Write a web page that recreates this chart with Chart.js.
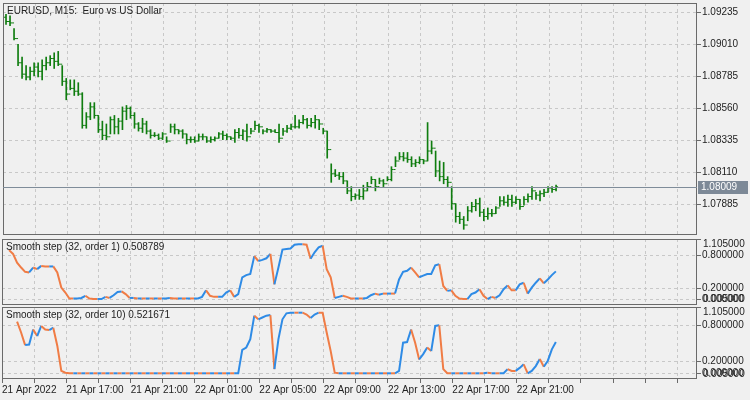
<!DOCTYPE html>
<html>
<head>
<meta charset="utf-8">
<script src="https://cdn.jsdelivr.net/npm/chart.js@4"></script>
<style>
  body { margin: 0; background: #f0f0f0; }
  #wrap { position: relative; width: 750px; height: 400px; }
  canvas { position: absolute; left: 0; }
</style>
</head>
<body>
<div id="wrap">
  <canvas id="c1" width="750" height="238" style="top:0;width:750px;height:238px"></canvas>
  <canvas id="c2" width="750" height="68" style="top:238px;width:750px;height:68px"></canvas>
  <canvas id="c3" width="750" height="94" style="top:306px;width:750px;height:94px"></canvas>
</div>
<script>
// EURUSD M15, 21-22 Apr 2022
const highs = [
  1.0922,1.0921,1.0912,1.0901,1.0892,1.0886,1.0885,1.0888,1.0888,1.0890,
  1.0892,1.0893,1.0895,1.0896,1.0886,1.0877,1.0876,1.0876,1.0874,1.0867,
  1.0853,1.0860,1.0860,1.0851,1.0847,1.0845,1.0850,1.0851,1.0849,1.0857,
  1.0858,1.0857,1.0853,1.0846,1.0849,1.0847,1.0841,1.0839,1.0838,1.0839,
  1.0836,1.0845,1.0845,1.0841,1.0841,1.0838,1.0836,1.0836,1.0838,1.0838,
  1.0836,1.0836,1.0836,1.0839,1.0840,1.0838,1.0836,1.0841,1.0842,1.0841,
  1.0845,1.0842,1.0847,1.0845,1.0841,1.0842,1.0841,1.0841,1.0845,1.0842,
  1.0844,1.0845,1.0851,1.0848,1.0851,1.0849,1.0849,1.0851,1.0848,1.0842,
  1.0840,1.0817,1.0813,1.0811,1.0811,1.0805,1.0801,1.0796,1.0799,1.0802,
  1.0804,1.0808,1.0806,1.0807,1.0806,1.0808,1.0815,1.0822,1.0825,1.0825,
  1.0825,1.0822,1.0820,1.0822,1.0820,1.0846,1.0833,1.0826,1.0819,1.0818,
  1.0808,1.0801,1.0789,1.0783,1.0780,1.0787,1.0790,1.0792,1.0793,1.0785,
  1.0786,1.0785,1.0787,1.0794,1.0794,1.0795,1.0795,1.0794,1.0792,1.0794,
  1.0796,1.0801,1.0797,1.0798,1.0799,1.0801,1.0801,1.0802
];
const lows = [
  1.0915,1.0914,1.0904,1.0886,1.0877,1.0876,1.0876,1.0879,1.0878,1.0876,
  1.0883,1.0886,1.0884,1.0886,1.0872,1.0862,1.0869,1.0865,1.0865,1.0842,
  1.0842,1.0848,1.0849,1.0839,1.0834,1.0834,1.0838,1.0838,1.0838,1.0841,
  1.0848,1.0849,1.0842,1.0840,1.0839,1.0838,1.0835,1.0836,1.0834,1.0834,
  1.0832,1.0839,1.0838,1.0838,1.0835,1.0831,1.0832,1.0832,1.0833,1.0834,
  1.0832,1.0832,1.0833,1.0835,1.0834,1.0834,1.0834,1.0832,1.0835,1.0834,
  1.0833,1.0838,1.0841,1.0839,1.0838,1.0839,1.0839,1.0839,1.0832,1.0837,
  1.0839,1.0841,1.0842,1.0842,1.0845,1.0842,1.0843,1.0842,1.0841,1.0838,
  1.0821,1.0804,1.0808,1.0806,1.0803,1.0796,1.0791,1.0792,1.0792,1.0792,
  1.0798,1.0803,1.0798,1.0803,1.0801,1.0805,1.0805,1.0815,1.0820,1.0819,
  1.0818,1.0815,1.0815,1.0817,1.0817,1.0819,1.0824,1.0808,1.0805,1.0803,
  1.0801,1.0785,1.0776,1.0775,1.0771,1.0777,1.0783,1.0784,1.0780,1.0777,
  1.0778,1.0780,1.0782,1.0787,1.0788,1.0787,1.0787,1.0789,1.0785,1.0788,
  1.0790,1.0792,1.0792,1.0791,1.0794,1.0797,1.0797,1.0798
];
const closes = [
  1.0917,1.0916,1.0905,1.0888,1.0880,1.0878,1.0882,1.0885,1.0882,1.0886,
  1.0888,1.0891,1.0889,1.0887,1.0875,1.0866,1.0870,1.0868,1.0866,1.0844,
  1.0850,1.0857,1.0851,1.0841,1.0837,1.0836,1.0848,1.0843,1.0847,1.0854,
  1.0856,1.0851,1.0845,1.0842,1.0845,1.0840,1.0837,1.0837,1.0835,1.0838,
  1.0833,1.0843,1.0841,1.0840,1.0838,1.0834,1.0834,1.0833,1.0836,1.0836,
  1.0833,1.0834,1.0835,1.0838,1.0837,1.0836,1.0835,1.0839,1.0837,1.0840,
  1.0836,1.0840,1.0844,1.0843,1.0840,1.0841,1.0840,1.0839,1.0835,1.0840,
  1.0842,1.0843,1.0843,1.0846,1.0848,1.0844,1.0846,1.0848,1.0845,1.0840,
  1.0827,1.0810,1.0809,1.0808,1.0805,1.0798,1.0794,1.0795,1.0794,1.0798,
  1.0801,1.0806,1.0801,1.0805,1.0803,1.0806,1.0813,1.0819,1.0822,1.0821,
  1.0820,1.0817,1.0818,1.0820,1.0819,1.0826,1.0828,1.0812,1.0808,1.0806,
  1.0804,1.0789,1.0780,1.0778,1.0774,1.0784,1.0787,1.0789,1.0783,1.0780,
  1.0782,1.0782,1.0786,1.0791,1.0790,1.0792,1.0790,1.0792,1.0787,1.0792,
  1.0794,1.0798,1.0795,1.0796,1.0797,1.0800,1.0799,1.08009
];
const firstOpen = 1.0920;
const lastPrice = 1.08009;

// Smooth step (32, order 1)
const step1 = [
  null,0.90,0.83,0.67,0.58,0.50,0.49,0.58,0.55,0.61,
  0.60,0.60,0.60,0.49,0.21,0.12,0.01,0.01,0.01,0.02,
  0.06,0.01,0.00,0.00,0.00,0.04,0.02,0.07,0.13,0.14,
  0.09,0.02,0.02,0.01,0.01,0.01,0.01,0.01,0.01,0.01,
  0.01,0.02,0.01,0.01,0.01,0.01,0.01,0.01,0.01,0.04,
  0.16,0.06,0.04,0.04,0.04,0.12,0.16,0.04,0.09,0.40,
  0.44,0.46,0.79,0.70,0.72,0.75,0.83,0.27,0.58,0.91,
  0.92,0.93,1.00,1.01,1.01,1.00,0.74,0.86,0.95,0.98,
  0.55,0.40,0.02,0.04,0.06,0.04,0.01,0.01,0.01,0.01,
  0.02,0.07,0.10,0.08,0.10,0.10,0.10,0.10,0.36,0.50,
  0.52,0.58,0.49,0.40,0.43,0.46,0.46,0.62,0.64,0.24,
  0.15,0.16,0.06,0.01,0.00,0.00,0.09,0.12,0.18,0.06,
  0.00,0.04,0.02,0.07,0.18,0.25,0.16,0.16,0.27,0.30,
  0.10,0.21,0.30,0.38,0.29,0.36,0.44,0.508789
];
// Smooth step (32, order 10)
const step10 = [
  null,null,null,0.86,0.68,0.47,0.48,0.73,0.62,0.79,
  0.73,0.72,0.76,0.46,0.04,0.01,0,0,0,0,
  0,0,0,0,0,0,0,0,0,0,
  0,0,0,0,0,0,0,0,0,0,
  0,0,0,0,0,0,0,0,0,0,
  0,0,0,0,0,0,0,0,0,0.39,
  0.43,0.57,0.96,0.90,0.93,0.96,0.97,0.07,0.57,0.90,
  1.00,1.01,1.01,1.01,1.01,0.98,0.92,0.98,1.01,1.01,
  0.68,0.37,0.01,0,0,0,0,0,0,0,
  0,0,0,0,0,0,0,0,0.04,0.51,
  0.52,0.73,0.51,0.23,0.32,0.43,0.37,0.79,0.80,0.07,
  0,0,0,0,0,0,0,0,0,0,
  0.01,0,0,0,0,0.07,0.04,0.04,0.09,0.15,
  0.00,0.04,0.12,0.24,0.11,0.21,0.40,0.521671
];

const priceTicks = [1.07885, 1.08110, 1.08335, 1.08560, 1.08785, 1.09010, 1.09235];
const stepTicks = [1.105, 0.8, 0.2, 0.0];
const timeLabels = ['21 Apr 2022', '21 Apr 17:00', '21 Apr 21:00', '22 Apr 01:00', '22 Apr 05:00',
                    '22 Apr 09:00', '22 Apr 13:00', '22 Apr 17:00', '22 Apr 21:00'];

const FONT = { family: 'Liberation Sans', size: 10 };
const TXT = '#222';
const GRID = '#c8c8c8';
const BORDER = '#6a6a6a';
const BLUE = '#2e8be6';
const ORANGE = '#f07c45';
const GREEN = '#0f7d0f';
const X_MIN = -0.75, X_MAX = 172.1;

Chart.defaults.font = FONT;
Chart.defaults.color = TXT;
Chart.defaults.animation = false;

function xAxis(showLabels) {
  return {
    type: 'linear', min: X_MIN, max: X_MAX, offset: false,
    afterBuildTicks: s => {
      const t = [];
      for (let v = X_MIN; v <= X_MAX; v += 8) t.push({ value: v });
      s.ticks = t;
    },
    afterFit: s => { s.height = showLabels ? 21 : 0; s.paddingLeft = 0; s.paddingRight = 0; },
    border: { display: false, dash: [3, 3] },
    grid: { color: GRID, drawTicks: showLabels, tickLength: 4,
            tickColor: BORDER, tickBorderDash: [], offset: false },
    ticks: {
      display: showLabels, autoSkip: false, maxRotation: 0, align: 'start', padding: 1,
      color: TXT,
      callback: (v, i) => (i % 2 === 0 ? (timeLabels[i / 2] || '') : '')
    }
  };
}

function yAxis(min, max, ticks, fmt, gridFilter) {
  return {
    position: 'right', min, max,
    afterBuildTicks: s => { s.ticks = ticks.map(v => ({ value: v })); },
    afterFit: s => { s.width = 53; s.paddingTop = 0; s.paddingBottom = 0; },
    border: { display: false, dash: [3, 3] },
    grid: {
      color: c => (gridFilter(c.tick && c.tick.value) ? GRID : 'rgba(0,0,0,0)'),
      tickLength: 4, tickColor: BORDER, tickBorderDash: []
    },
    ticks: { autoSkip: false, padding: 1, color: TXT, callback: fmt }
  };
}

function frame(label, extra) {
  return {
    id: 'frame',
    afterDraw(chart) {
      const { ctx, chartArea: a } = chart;
      ctx.save();
      ctx.strokeStyle = BORDER; ctx.lineWidth = 1;
      ctx.strokeRect(Math.round(a.left) + 0.5, Math.round(a.top) + 0.5,
                     Math.round(a.right - a.left) - 1, Math.round(a.bottom - a.top) - 1);
      ctx.font = '10px "Liberation Sans"';
      ctx.fillStyle = TXT; ctx.textBaseline = 'middle'; ctx.textAlign = 'left';
      ctx.fillText(label, a.left + 4, a.top + 8);
      if (extra) extra(chart);
      ctx.restore();
    }
  };
}

// main pane: bars
const barIdx = closes.map((_, i) => i);
const opens = closes.map((c, i) => (i === 0 ? firstOpen : closes[i - 1]));

new Chart(document.getElementById('c1'), {
  data: {
    datasets: [
      { type: 'bar', data: barIdx.map(i => ({ x: i, y: [lows[i], highs[i]] })),
        backgroundColor: GREEN, barThickness: 1, grouped: false },
      { type: 'scatter', data: barIdx.map(i => ({ x: i, y: closes[i] })),
        pointStyle: 'dash', radius: 2, borderColor: GREEN, borderWidth: 1, hoverRadius: 2 },
      { type: 'scatter', data: barIdx.map(i => ({ x: i, y: opens[i] })),
        pointStyle: 'dash', rotation: 180, radius: 2, borderColor: GREEN, borderWidth: 1, hoverRadius: 2 }
    ]
  },
  options: {
    responsive: false, maintainAspectRatio: false, devicePixelRatio: 1,
    layout: { padding: { top: 2, left: 2, bottom: 1, right: 0 } },
    plugins: { legend: { display: false }, tooltip: { enabled: false } },
    scales: {
      x: xAxis(false),
      y: yAxis(1.0767, 1.0930, priceTicks, v => v.toFixed(5), () => true)
    }
  },
  plugins: [frame('EURUSD, M15:  Euro vs US Dollar', chart => {
    const { ctx, chartArea: a, scales } = chart;
    const y = Math.round(scales.y.getPixelForValue(lastPrice)) + 0.5;
    ctx.strokeStyle = '#7f8c99'; ctx.beginPath();
    ctx.moveTo(a.left, y); ctx.lineTo(a.right, y); ctx.stroke();
    ctx.fillStyle = '#7d8997';
    ctx.fillRect(a.right + 1, y - 6.5, 50, 13);
    ctx.fillStyle = '#fff'; ctx.textAlign = 'left';
    ctx.fillText(lastPrice.toFixed(5), a.right + 4, y);
  })]
});

function stepChart(id, pad, min, values, label, showX) {
  new Chart(document.getElementById(id), {
    type: 'line',
    data: {
      datasets: [{
        data: values.map((v, i) => ({ x: i, y: v })),
        borderWidth: 2, pointRadius: 0, tension: 0,
        segment: {
          borderColor: c => {
            const a = c.p0.parsed.y, b = c.p1.parsed.y;
            if (b > a) return BLUE;
            if (b < a) return ORANGE;
            return c.p0DataIndex % 2 ? BLUE : ORANGE;
          }
        }
      }]
    },
    options: {
      responsive: false, maintainAspectRatio: false, devicePixelRatio: 1,
      layout: { padding: pad },
      plugins: { legend: { display: false }, tooltip: { enabled: false } },
      scales: {
        x: xAxis(showX),
        y: yAxis(min, 1.105, stepTicks, v => (v === 1.105 ? '' : v.toFixed(6)), v => v !== 1.105)
      }
    },
    plugins: [frame(label, chart => {
      const { ctx, chartArea: a, scales } = chart;
      ctx.fillStyle = TXT; ctx.textAlign = 'left';
      ctx.fillText('0.005000', a.right + 6, scales.y.getPixelForValue(0) + 0.5);
      ctx.fillText((1.105).toFixed(6), a.right + 6, a.top + 5);
    })]
  });
}

stepChart('c2', { top: 1, left: 2, bottom: 1, right: 0 }, -0.11, step1,
          'Smooth step (32, order 1) 0.508789', false);
stepChart('c3', { top: 1, left: 2, bottom: 0, right: 0 }, -0.095, step10,
          'Smooth step (32, order 10) 0.521671', true);
</script>
</body>
</html>
